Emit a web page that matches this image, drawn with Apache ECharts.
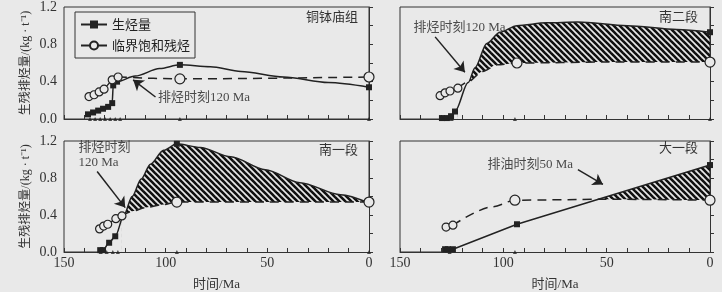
<!DOCTYPE html>
<html><head><meta charset="utf-8">
<script src="https://cdn.jsdelivr.net/npm/echarts@6/dist/echarts.min.js"></script>
<style>html,body{margin:0;padding:0;background:#e9e9e9}#c{width:722px;height:292px}</style>
</head><body><div id="c"></div>
<script>
// ---------- data (time in Ma, value in kg/t) ----------
const panelTitles = ['铜钵庙组', '南二段', '南一段', '大一段'];
const xTickLabels = [150, 100, 50, 0];
const yTickLabels = [0.0, 0.4, 0.8, 1.2];

// 铜钵庙组
const genA = [[138.2,0.05],[135.7,0.07],[133.2,0.09],[130.8,0.11],[128.3,0.13],[126.3,0.17],[125.8,0.36],[123.9,0.40],[115,0.46],[103,0.54],[93,0.58],[78,0.56],[63,0.51],[42,0.45],[20,0.39],[0,0.34]];
const genAMarks = [138.2,135.7,133.2,130.8,128.3,126.3,125.8,123.9,93,0];
const satEarlyA = [[137.7,0.24],[135.2,0.26],[132.7,0.29],[130.3,0.32],[126.3,0.42],[123.4,0.45]];
const satLateA = [[123.4,0.45],[93,0.43],[0,0.45]];
const satLateAMarks = [93,0];
const triA = [[137.2,0],[134.7,0],[132.2,0],[129.8,0],[127.3,0],[124.8,0],[122.4,0],[93,0],[0,0]];

// 南二段
const genB = [[129.7,0.01],[127.3,0.01],[125.3,0.03],[123.4,0.08],[117,0.39],[113.7,0.55],[108,0.81],[101.6,0.93],[93.4,1.0],[79,1.03],[64,1.04],[40,1.0],[16,0.96],[0,0.93]];
const genBMarks = [129.7,127.3,125.3,123.4,0];
const satEarlyB = [[130.6,0.25],[128.2,0.28],[125.8,0.30],[122,0.33]];
const satLateB = [[122,0.33],[117,0.40],[110,0.51],[103,0.58],[93.4,0.60],[50,0.61],[0,0.61]];
const satLateBMarks = [93.4,0];
const triB = [[129,0],[127,0],[125,0],[94.4,0],[0,0]];

// 南一段
const genC = [[132.2,0.02],[130.8,0.02],[127.8,0.10],[124.8,0.17],[120.5,0.40],[116.5,0.60],[112,0.79],[107.5,0.95],[101,1.1],[94.5,1.17],[83,1.13],[68,1.03],[51,0.89],[34,0.75],[14,0.62],[0,0.53]];
const genCMarks = [132.2,130.8,127.8,124.8,94.5,0];
const satEarlyC = [[132.5,0.25],[130.5,0.28],[128.5,0.30],[124.5,0.36],[121.5,0.39]];
const satLateC = [[121.5,0.39],[116.5,0.44],[110,0.48],[102,0.51],[94.5,0.54],[50,0.54],[0,0.54]];
const satLateCMarks = [94.5,0];
const triC = [[132,0],[129,0],[126,0],[123.5,0],[94.5,0],[0,0]];

// 大一段
const genD = [[128.2,0.03],[126.8,0.03],[124.4,0.03],[93.4,0.30],[0,0.94]];
const genDMarks = [128.2,126.8,124.4,93.4,0];
const satEarlyD = [[127.7,0.27],[124.4,0.29]];
const satLateD = [[124.4,0.29],[105,0.49],[94.4,0.56],[50,0.57],[0,0.56]];
const satLateDMarks = [94.4,0];
const triD = [[126,0],[94.4,0]];

// annotations: text anchor, arrow tail, arrow head
const annTextA = '排烃时刻120 Ma';   const annPosA = [104,0.225]; const arrowA = [[105,0.236],[116,0.42]];
const annTextB = '排烃时刻120 Ma';   const annPosB = [143.7,0.975]; const arrowB = [[133,0.88],[118.6,0.5]];
const annTextC = '排烃时刻\n120 Ma'; const annPosC = [143.1,1.05]; const arrowC = [[133.7,0.87],[119.9,0.48]];
const annTextD = '排油时刻50 Ma';    const annPosD = [107.9,0.943]; const arrowD = [[63.9,0.89],[51.8,0.73]];

// ---------- styling ----------
const BG = '#e9e9e9';
const INK = '#222';
const FONT = "'Liberation Serif','Noto Sans CJK SC',serif";
const CJK = "'Noto Sans CJK SC','Liberation Serif',sans-serif";

function hatchPattern() {
  const s = 6, c = document.createElement('canvas');
  c.width = s; c.height = s;
  const g = c.getContext('2d');
  g.strokeStyle = '#111'; g.lineWidth = 2.6;
  for (let k = -1; k <= 1; k++) {
    g.beginPath(); g.moveTo(-1, k * s - 1); g.lineTo(s + 1, s + k * s + 1); g.stroke();
  }
  return c;
}
const HATCH = { image: hatchPattern(), repeat: 'repeat' };

const panels = [
  { gen: genA, genMarks: genAMarks, satE: satEarlyA, satL: satLateA, satLMarks: satLateAMarks, tri: triA, hatch: false, smooth: 0.3, annText: annTextA, annPos: annPosA, arrow: arrowA },
  { gen: genB, genMarks: genBMarks, satE: satEarlyB, satL: satLateB, satLMarks: satLateBMarks, tri: triB, hatch: true, smooth: 0.3, annText: annTextB, annPos: annPosB, arrow: arrowB },
  { gen: genC, genMarks: genCMarks, satE: satEarlyC, satL: satLateC, satLMarks: satLateCMarks, tri: triC, hatch: true, smooth: 0.3, annText: annTextC, annPos: annPosC, arrow: arrowC },
  { gen: genD, genMarks: genDMarks, satE: satEarlyD, satL: satLateD, satLMarks: satLateDMarks, tri: triD, hatch: true, smooth: false, annText: annTextD, annPos: annPosD, arrow: arrowD },
];

const gridBoxes = [
  { left: 64, top: 7, width: 305, height: 112 },
  { left: 400, top: 7, width: 310, height: 112 },
  { left: 64, top: 141, width: 305, height: 112 },
  { left: 400, top: 141, width: 310, height: 112 },
];

const series = [];
panels.forEach((p, i) => {
  const ax = { xAxisIndex: i, yAxisIndex: i, animation: false, silent: true };
  if (p.hatch) {
    series.push({ ...ax, type: 'line', name: 'hatch' + i, data: p.gen, smooth: p.smooth, smoothMonotone: 'x',
      symbol: 'none', lineStyle: { width: 0, opacity: 0 }, areaStyle: { color: HATCH, opacity: 1 }, z: 1 });
    series.push({ ...ax, type: 'line', name: 'maskE' + i, data: p.satE, symbol: 'none',
      lineStyle: { width: 0, opacity: 0 }, areaStyle: { color: BG, opacity: 1 }, z: 2 });
    series.push({ ...ax, type: 'line', name: 'maskL' + i, data: p.satL, smooth: 0.3, smoothMonotone: 'x', symbol: 'none',
      lineStyle: { width: 0, opacity: 0 }, areaStyle: { color: BG, opacity: 1 }, z: 2 });
  }
  series.push({ ...ax, type: 'line', name: '生烃量', smooth: p.smooth, smoothMonotone: 'x',
    data: p.gen.map(([t, v]) => ({ value: [t, v], symbol: p.genMarks.includes(t) ? 'rect' : 'none' })),
    symbol: 'rect', symbolSize: 6, showSymbol: true,
    itemStyle: { color: INK }, lineStyle: { color: INK, width: 1.5 }, z: 4 });
  series.push({ ...ax, type: 'line', name: '临界饱和残烃', data: p.satE,
    symbol: 'circle', symbolSize: 8, showSymbol: true,
    itemStyle: { color: BG, borderColor: INK, borderWidth: 1.2 }, lineStyle: { color: INK, width: 1.3 }, z: 5 });
  series.push({ ...ax, type: 'line', name: 'satL' + i, smooth: 0.3, smoothMonotone: 'x',
    data: p.satL.map(([t, v]) => ({ value: [t, v], symbol: p.satLMarks.includes(t) ? 'circle' : 'none' })),
    symbol: 'circle', symbolSize: 10, showSymbol: true,
    itemStyle: { color: BG, borderColor: INK, borderWidth: 1.2 }, lineStyle: { color: INK, width: 1.5, type: [9, 6] }, z: 5 });
  series.push({ ...ax, type: 'scatter', name: 'tri' + i, data: p.tri, symbol: 'triangle', symbolSize: 4,
    itemStyle: { color: INK }, z: 6 });
  series.push({ ...ax, type: 'scatter', name: 'ann' + i, data: [p.annPos], symbolSize: 1,
    itemStyle: { color: 'rgba(0,0,0,0)' }, z: 7,
    label: { show: true, position: 'right', distance: 0, formatter: p.annText, fontSize: 13, lineHeight: 15,
      color: INK, fontFamily: FONT },
    markLine: { silent: true, animation: false, symbol: ['none', 'arrow'], symbolSize: 10,
      lineStyle: { color: INK, width: 1.5, type: 'solid' }, label: { show: false },
      data: [[{ coord: p.arrow[0] }, { coord: p.arrow[1] }]] } });
});

const option = {
  backgroundColor: BG,
  animation: false,
  textStyle: { fontFamily: FONT },
  title: [
    { text: panelTitles[0], right: 722 - 358, top: 10 },
    { text: panelTitles[1], right: 722 - 698, top: 10 },
    { text: panelTitles[2], right: 722 - 358, top: 143 },
    { text: panelTitles[3], right: 722 - 698, top: 141 },
  ].map(t => ({ ...t, padding: 0, textStyle: { fontSize: 13, fontWeight: 'normal', color: '#333', fontFamily: CJK } })),
  legend: {
    left: 75, top: 12, orient: 'vertical', data: ['生烃量', '临界饱和残烃'],
    borderColor: '#333', borderWidth: 1, padding: [6, 5, 6, 5], itemGap: 8, itemWidth: 26, itemHeight: 10,
    textStyle: { fontSize: 13, color: INK, fontFamily: CJK }, selectedMode: false
  },
  grid: gridBoxes.map(g => ({ ...g, show: true, borderColor: '#333', borderWidth: 1, backgroundColor: 'transparent' })),
  xAxis: gridBoxes.map((g, i) => ({
    gridIndex: i, type: 'value', min: 0, max: 150, interval: 10, inverse: true, z: 3,
    axisLine: { show: true, lineStyle: { color: '#333', width: 1 } },
    axisTick: { show: true, inside: true, length: 4, lineStyle: { color: '#333' } },
    splitLine: { show: false },
    axisLabel: { show: i >= 2, margin: 4, fontSize: 14, color: '#333', fontFamily: FONT,
      formatter: v => (xTickLabels.includes(v) ? String(v) : '') },
    name: i >= 2 ? '时间/Ma' : '', nameLocation: 'middle', nameGap: 26,
    nameTextStyle: { fontSize: 13, color: '#333', fontFamily: FONT }
  })),
  yAxis: gridBoxes.map((g, i) => ({
    gridIndex: i, type: 'value', min: 0, max: 1.2, interval: 0.2, z: 3,
    axisLine: { show: true, lineStyle: { color: '#333', width: 1 } },
    axisTick: { show: true, inside: true, length: 4, lineStyle: { color: '#333' } },
    splitLine: { show: false },
    axisLabel: { show: i % 2 === 0, margin: 7, fontSize: 14, color: '#333', fontFamily: FONT,
      formatter: v => (yTickLabels.some(y => Math.abs(y - v) < 1e-6) ? v.toFixed(1) : '') },
    name: i % 2 === 0 ? '生残排烃量/(kg · t⁻¹)' : '', nameLocation: 'middle', nameRotate: 90, nameGap: 32,
    nameTextStyle: { fontSize: 12, color: '#333', fontFamily: FONT }
  })),
  series
};

const chart = echarts.init(document.getElementById('c'), null, { renderer: 'canvas' });
chart.setOption(option);
</script></body></html>
